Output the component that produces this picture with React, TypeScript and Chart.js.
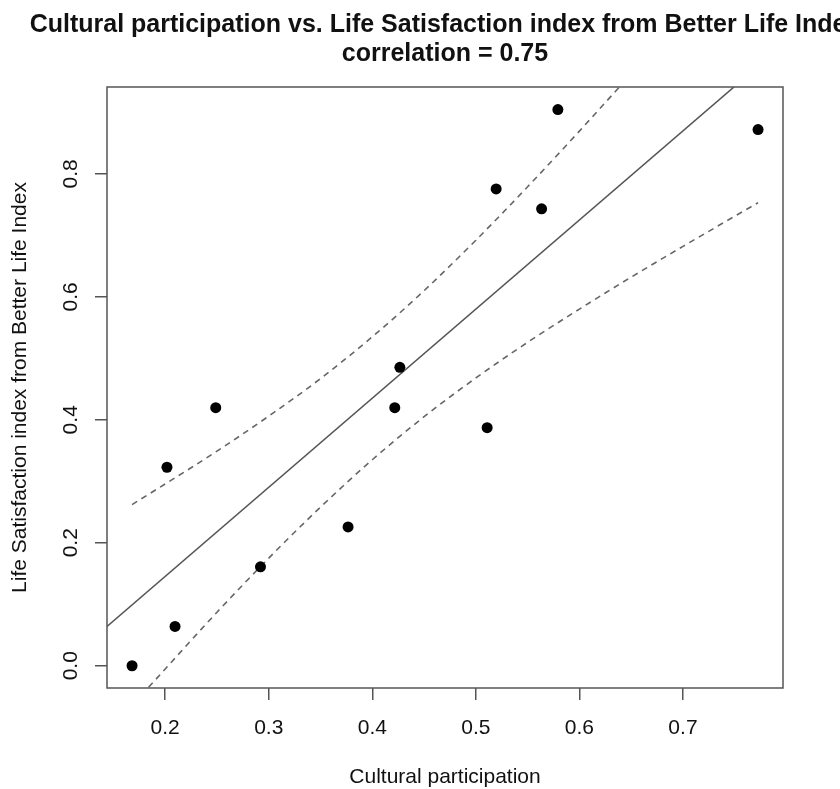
import React, { useEffect, useRef } from "react";
import { Chart, registerables } from "chart.js";
Chart.register(...registerables);

const culturalParticipation = [0.168, 0.2095, 0.2017, 0.2488, 0.292, 0.3766, 0.4217, 0.4266, 0.5109, 0.5196, 0.5635, 0.5792, 0.7725];
const lifeSatisfaction = [0.0, 0.0639, 0.3228, 0.4197, 0.1608, 0.2258, 0.4197, 0.4853, 0.3872, 0.7755, 0.743, 0.9045, 0.872];

// Fitted line (visible end points)
const fitX = [0.1438, 0.7493];
const fitY = [0.0639, 0.9412];

// Upper dashed band
const upperX = [0.168, 0.25, 0.3, 0.35, 0.407, 0.45, 0.5, 0.55, 0.6, 0.6385];
const upperY = [0.262, 0.349, 0.406, 0.467, 0.545, 0.61, 0.692, 0.779, 0.8695, 0.941];

// Lower dashed band
const lowerX = [0.184, 0.25, 0.3, 0.35, 0.4, 0.45, 0.5, 0.55, 0.6, 0.65, 0.7, 0.7725];
const lowerY = [-0.035, 0.087, 0.175, 0.258, 0.335, 0.405, 0.468, 0.526, 0.58, 0.632, 0.682, 0.753];

const xTicks = [0.2, 0.3, 0.4, 0.5, 0.6, 0.7];
const xTickLabels = ["0.2", "0.3", "0.4", "0.5", "0.6", "0.7"];
const yTicks = [0.0, 0.2, 0.4, 0.6, 0.8];
const yTickLabels = ["0.0", "0.2", "0.4", "0.6", "0.8"];

const titleLines = [
  "Cultural participation vs. Life Satisfaction index from Better Life Index",
  "correlation = 0.75",
];
const xTitle = "Cultural participation";
const yTitle = "Life Satisfaction index from Better Life Index";

const FONT = '"Liberation Sans", Arial, Helvetica, sans-serif';

const toPts = (xs: number[], ys: number[]) => xs.map((x, i) => ({ x, y: ys[i] }));

const textPlugin = {
  id: "rtext",
  afterDraw(chart: any) {
    const { ctx, chartArea } = chart;
    const xs = chart.scales.x;
    const ys = chart.scales.y;
    ctx.save();
    // box
    ctx.strokeStyle = "#555";
    ctx.lineWidth = 1.5;
    ctx.strokeRect(chartArea.left, chartArea.top, chartArea.right - chartArea.left, chartArea.bottom - chartArea.top);

    const cx = (chartArea.left + chartArea.right) / 2;
    const cy = (chartArea.top + chartArea.bottom) / 2;
    ctx.fillStyle = "#111";
    ctx.textAlign = "center";
    ctx.textBaseline = "alphabetic";

    // title
    ctx.font = `bold 25px ${FONT}`;
    ctx.fillText(titleLines[0], cx, 32);
    ctx.fillText(titleLines[1], cx, 61);

    // x tick labels
    ctx.font = `21px ${FONT}`;
    xs.ticks.forEach((t: any, i: number) => {
      const px = xs.getPixelForValue(t.value);
      ctx.fillText(xTickLabels[i], px, 734);
    });
    // y tick labels (rotated)
    ys.ticks.forEach((t: any, i: number) => {
      const py = ys.getPixelForValue(t.value);
      ctx.save();
      ctx.translate(77, py);
      ctx.rotate(-Math.PI / 2);
      ctx.fillText(yTickLabels[i], 0, 0);
      ctx.restore();
    });
    // axis titles
    ctx.fillText(xTitle, cx, 783);
    ctx.save();
    ctx.translate(26, cy);
    ctx.rotate(-Math.PI / 2);
    ctx.fillText(yTitle, 0, 0);
    ctx.restore();
    ctx.restore();
  },
};

export default function App() {
  const ref = useRef<HTMLCanvasElement>(null);
  useEffect(() => {
    if (!ref.current) return;
    const chart = new Chart(ref.current, {
      type: "scatter",
      data: {
        datasets: [
          {
            data: toPts(culturalParticipation, lifeSatisfaction),
            backgroundColor: "#000",
            borderColor: "#000",
            pointRadius: 5.5,
            pointBorderWidth: 0,
            showLine: false,
          },
          {
            data: toPts(fitX, fitY),
            showLine: true,
            borderColor: "#555",
            borderWidth: 1.6,
            pointRadius: 0,
          },
          {
            data: toPts(upperX, upperY),
            showLine: true,
            borderColor: "#666",
            borderWidth: 1.6,
            borderDash: [6, 5],
            pointRadius: 0,
            cubicInterpolationMode: "monotone",
          },
          {
            data: toPts(lowerX, lowerY),
            showLine: true,
            borderColor: "#666",
            borderWidth: 1.6,
            borderDash: [6, 5],
            pointRadius: 0,
            cubicInterpolationMode: "monotone",
          },
        ],
      },
      options: {
        responsive: false,
        animation: false,
        events: [],
        layout: { padding: { top: 87, right: 57, left: 0, bottom: 0 } },
        plugins: { legend: { display: false }, tooltip: { enabled: false }, title: { display: false } },
        scales: {
          x: {
            type: "linear",
            min: 0.1438,
            max: 0.7966,
            afterBuildTicks: (s: any) => {
              s.ticks = xTicks.map((v) => ({ value: v }));
            },
            afterFit: (s: any) => {
              s.height = 101;
            },
            ticks: { display: false },
            grid: { drawOnChartArea: false, drawTicks: true, tickLength: 12, color: "#555", lineWidth: 1.5 },
            border: { display: false },
          },
          y: {
            type: "linear",
            min: -0.0362,
            max: 0.9412,
            afterBuildTicks: (s: any) => {
              s.ticks = yTicks.map((v) => ({ value: v }));
            },
            afterFit: (s: any) => {
              s.width = 107;
            },
            ticks: { display: false },
            grid: { drawOnChartArea: false, drawTicks: true, tickLength: 12, color: "#555", lineWidth: 1.5 },
            border: { display: false },
          },
        },
      },
      plugins: [textPlugin],
    });
    return () => chart.destroy();
  }, []);
  return (
    <div style={{ position: "absolute", left: 0, top: 0, width: 840, height: 789, background: "#fff" }}>
      <canvas ref={ref} width={840} height={789} style={{ display: "block" }} />
    </div>
  );
}
